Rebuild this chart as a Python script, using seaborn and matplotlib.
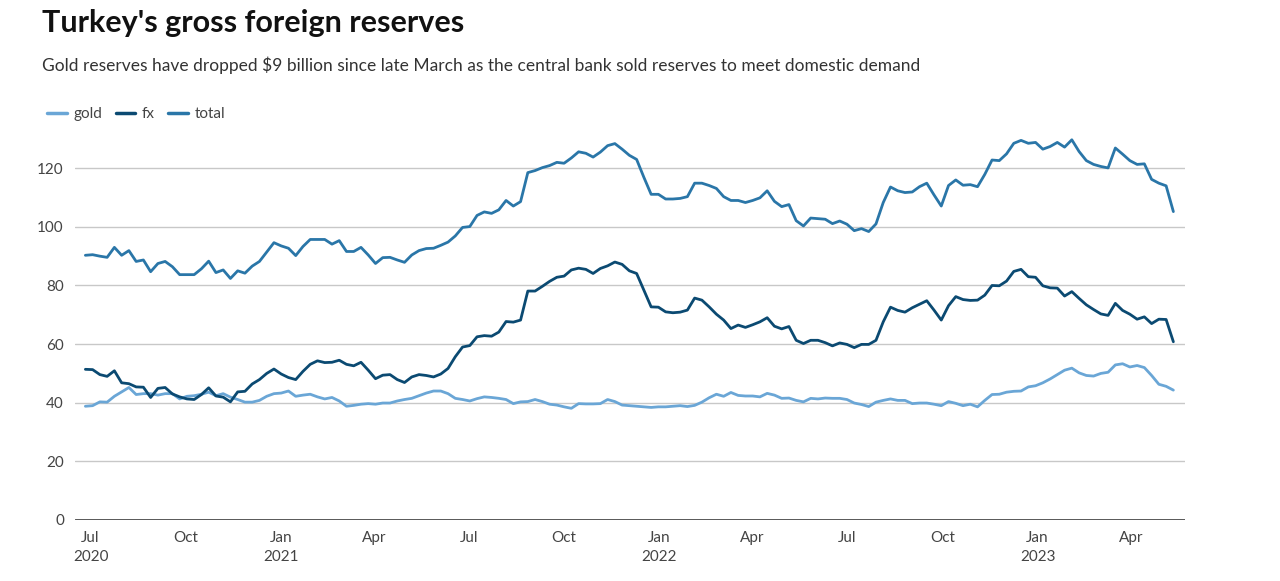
import seaborn as sns
import matplotlib.pyplot as plt
import matplotlib.dates as mdates
import pandas as pd

# weekly readings, billions of USD
dates = pd.date_range('2020-06-26', periods=151, freq='7D')

gold = [38.8, 39.0, 40.3, 40.2, 42.2, 43.7, 45.2, 42.8, 43.1, 43.1,
        42.6, 43.1, 43.1, 41.3, 42.2, 42.4, 42.9, 43.6, 42.4, 43.1,
        41.9, 41.1, 40.2, 40.2, 40.8, 42.2, 43.1, 43.3, 44.0, 42.2,
        42.6, 42.9, 42.0, 41.3, 41.8, 40.6, 38.8, 39.1, 39.5, 39.7,
        39.5, 39.9, 39.9, 40.6, 41.1, 41.5, 42.4, 43.3, 44.0, 44.0,
        43.1, 41.5, 41.1, 40.6, 41.4, 42.0, 41.8, 41.5, 41.1, 39.7,
        40.3, 40.4, 41.1, 40.4, 39.5, 39.2, 38.6, 38.1, 39.7, 39.6,
        39.6, 39.7, 41.1, 40.4, 39.2, 39.0, 38.8, 38.6, 38.4, 38.6,
        38.6, 38.8, 39.0, 38.7, 39.1, 40.2, 41.7, 42.9, 42.2, 43.5,
        42.5, 42.3, 42.3, 42.0, 43.2, 42.6, 41.5, 41.6, 40.8, 40.3,
        41.5, 41.3, 41.6, 41.5, 41.5, 41.1, 39.9, 39.4, 38.7, 40.2,
        40.8, 41.3, 40.8, 40.8, 39.7, 39.9, 39.9, 39.5, 39.0, 40.4,
        39.8, 39.0, 39.5, 38.6, 40.8, 42.8, 42.9, 43.6, 43.9, 44.0,
        45.4, 45.8, 46.8, 48.1, 49.6, 51.1, 51.8, 50.2, 49.3, 49.1,
        50.0, 50.4, 52.9, 53.3, 52.2, 52.7, 52.0, 49.3, 46.3, 45.6,
        44.3]

fx = [51.4, 51.3, 49.6, 49.0, 50.9, 46.8, 46.5, 45.4, 45.3, 41.8,
      44.9, 45.2, 43.0, 42.0, 41.3, 41.1, 42.8, 45.1, 42.3, 41.9,
      40.3, 43.7, 43.9, 46.4, 47.9, 50.0, 51.5, 49.8, 48.6, 47.9,
      50.7, 53.1, 54.3, 53.7, 53.8, 54.5, 53.1, 52.6, 53.8, 51.1,
      48.2, 49.4, 49.6, 47.9, 46.9, 48.8, 49.6, 49.3, 48.8, 49.8,
      51.7, 55.7, 59.0, 59.5, 62.5, 62.9, 62.7, 64.1, 67.7, 67.5,
      68.2, 78.1, 78.1, 79.7, 81.4, 82.8, 83.2, 85.3, 85.9, 85.5,
      84.1, 85.8, 86.7, 88.0, 87.2, 85.0, 84.1, 78.4, 72.7, 72.6,
      71.0, 70.7, 70.9, 71.6, 75.7, 75.0, 72.7, 70.2, 68.2, 65.3,
      66.5, 65.7, 66.6, 67.6, 69.0, 66.1, 65.2, 66.0, 61.3, 60.2,
      61.3, 61.3, 60.5, 59.4, 60.4, 59.9, 58.8, 59.9, 59.9, 61.3,
      67.6, 72.6, 71.5, 70.9, 72.4, 73.6, 74.8, 71.6, 68.2, 73.1,
      76.2, 75.2, 74.9, 75.0, 76.7, 80.0, 79.9, 81.5, 84.8, 85.5,
      83.0, 82.8, 79.9, 79.2, 79.1, 76.4, 77.9, 75.6, 73.4, 71.8,
      70.3, 69.8, 73.9, 71.5, 70.2, 68.5, 69.3, 67.0, 68.5, 68.4,
      60.8]

total = [90.3, 90.5, 90.0, 89.6, 93.0, 90.3, 91.9, 88.2, 88.7, 84.7,
         87.5, 88.2, 86.4, 83.7, 83.7, 83.7, 85.7, 88.3, 84.4, 85.3,
         82.4, 85.0, 84.2, 86.6, 88.2, 91.4, 94.6, 93.5, 92.7, 90.2,
         93.3, 95.7, 95.7, 95.7, 94.1, 95.3, 91.6, 91.6, 93.0, 90.4,
         87.5, 89.5, 89.6, 88.7, 87.9, 90.4, 91.9, 92.6, 92.7, 93.7,
         94.8, 96.9, 99.8, 100.1, 103.9, 105.1, 104.6, 105.8, 109.0, 107.1,
         108.6, 118.5, 119.2, 120.2, 120.9, 122.0, 121.7, 123.5, 125.6, 125.1,
         123.8, 125.5, 127.7, 128.4, 126.5, 124.4, 123.0, 116.9, 111.1, 111.1,
         109.5, 109.5, 109.7, 110.3, 114.9, 114.9, 114.1, 113.1, 110.3, 109.0,
         109.0, 108.3, 109.0, 109.9, 112.3, 108.7, 106.9, 107.6, 102.1, 100.3,
         103.0, 102.8, 102.6, 101.1, 102.0, 100.9, 98.7, 99.4, 98.4, 101.0,
         108.3, 113.6, 112.3, 111.7, 111.9, 113.7, 114.9, 110.9, 107.1, 114.1,
         116.0, 114.2, 114.4, 113.7, 117.9, 122.8, 122.6, 124.9, 128.5, 129.5,
         128.5, 128.8, 126.5, 127.4, 128.8, 127.2, 129.7, 125.7, 122.6, 121.3,
         120.6, 120.1, 126.9, 124.8, 122.6, 121.3, 121.5, 116.2, 114.9, 114.0,
         105.2]

series_names = ['gold', 'fx', 'total']
colors = {'gold': '#6aa6d6', 'fx': '#0b4a72', 'total': '#2a76a8'}

df = pd.DataFrame({'date': dates, 'gold': gold, 'fx': fx, 'total': total})
long = df.melt(id_vars='date', value_vars=series_names, var_name='series', value_name='value')

sns.set_theme(style='white')
plt.rcParams['font.family'] = ['Lato', 'DejaVu Sans']

fig = plt.figure(figsize=(12.8, 5.81), dpi=100)
ax = fig.add_axes([0.0586, 0.105, 0.867, 0.666])

sns.lineplot(data=long, x='date', y='value', hue='series', hue_order=series_names,
             palette=colors, linewidth=2.0, legend=False, ax=ax)

ax.set_ylim(0, 132)
ax.set_xlim(pd.Timestamp('2020-06-16'), pd.Timestamp('2023-05-23'))
ax.set_yticks([0, 20, 40, 60, 80, 100, 120])
ax.yaxis.grid(True, color='#c8c8c8', linewidth=1.0)
ax.axhline(0, color='#4a4a4a', linewidth=2.0, zorder=3)
for s in ax.spines.values():
    s.set_visible(False)

ticks = pd.date_range('2020-07-01', '2023-04-01', freq='QS')
labels = []
for t in ticks:
    m = t.strftime('%b')
    if t == ticks[0] or t.month == 1:
        labels.append(f'{m}\n{t.year}')
    else:
        labels.append(m)
ax.set_xticks(ticks)
ax.set_xticklabels(labels, linespacing=1.45, va='top')
ax.tick_params(axis='both', length=0, labelsize=11, labelcolor='#444444')
ax.tick_params(axis='x', pad=8)
ax.tick_params(axis='y', pad=8)
ax.set_xlabel('')
ax.set_ylabel('')

fig.text(0.033, 0.96, "Turkey's gross foreign reserves", fontsize=22, fontweight='bold',
         color='#111111', va='center', ha='left')
fig.text(0.033, 0.888, 'Gold reserves have dropped $9 billion since late March as the central bank '
         'sold reserves to meet domestic demand', fontsize=12.5, color='#333333',
         va='center', ha='left')

handles = [plt.Line2D([], [], color=colors[n], linewidth=2.5) for n in series_names]
fig.legend(handles, series_names, loc='center left', bbox_to_anchor=(0.026, 0.804),
           ncol=3, frameon=False, fontsize=11, handlelength=1.3, handletextpad=0.4,
           columnspacing=0.9, labelcolor='#444444')

fig.savefig('out.png', dpi=100)
